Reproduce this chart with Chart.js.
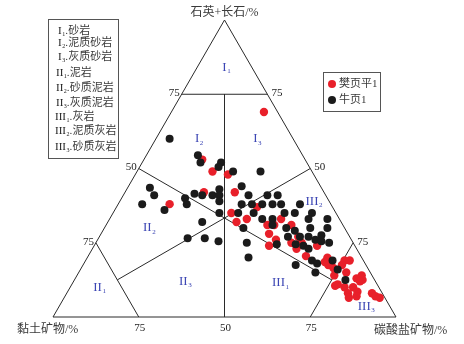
<!DOCTYPE html>
<html><head><meta charset="utf-8">
<script src="https://cdn.jsdelivr.net/npm/chart.js@4/dist/chart.umd.min.js"></script>
<style>html,body{margin:0;padding:0;background:#fff}canvas{display:block}</style>
</head><body>
<canvas id="c" width="464" height="344"></canvas>
<script>
// ---- data (ternary percentages; clay = 100 - quartz - carbonate) ----
const seriesNames = ['樊页平1', '牛页1'];
const fanQuartz    = [69,53,49,48,38,42,42,35,32,33,37,33,31,31,31,28,26,24,25,23,27,25,24,20.5,20,18.5,17.5,16.5,19,19,17.5,15,14,11,10.5,13,14,12.5,12,10,10,8,8.5,7,6.5,8,7,6.5];
const fanCarbonate = [27,17,22,27,15,23,32,34.5,37.5,40,41,50,47,49,54,49,52,51,57,59.5,58,60,65,63.5,70,70,71.5,73.5,75.5,77,75.5,78,75,77.5,77,82,83,84,83.5,80,82.5,82,84.5,85,83,89,90.5,92];
const niuQuartz    = [60,54.5,52,52,50.5,49,49,43.5,41,38,36,40,38,41.5,41,41,43,41,39,35,44,41,38,38,35,30,35,41,41,38,38,38,38,35,35,35,33,33,33,33,31,30,29,30,30,27,27.5,26,25.5,25,27,27,24.5,24.5,24,23,25,20,19,18,17.5,15,19,16,12.5,32,26.5,26.5,25.5];
const niuCarbonate = [4,15,17,23,23,28,36,6.5,9,7,14.5,18.5,20,20.5,23,26,27,28,29,31,33,36.5,36,39,36.5,40.5,41,42,45,42,45,47.5,53,50,53,58,44.5,47.5,58,63.5,48.5,53,56,60,65,61,64.5,63.5,65.5,68,58.5,55,53,58.5,61,63,44,47,66,68,62,69,72,75,79,27.5,26,31,35.5];
const cornerTitles = ['石英+长石/%', '黏土矿物/%', '碳酸盐矿物/%'];
const edgeTickLabels = ['75', '50', '75'];
const rockClass = ['I','I','I','II','II','II','III','III','III'];
const rockSub   = ['1','2','3','1','2','3','1','2','3'];
const rockNames = ['砂岩','泥质砂岩','灰质砂岩','泥岩','砂质泥岩','灰质泥岩','灰岩','泥质灰岩','砂质灰岩'];

// ---- layout (ternary positions of region labels, boundaries) ----
const regionLabelPos = [[84,8],[60,12],[60,29],[10,8],[30,12.5],[12,32],[11.5,60],[39,56],[3.5,89]];
const C3 = 100/3;
const boundaries = [
  [[100,0],[0,0],[0,100],[100,0]],
  [[75,0],[75,25]],
  [[75,12.5],[0,50]],
  [[50,0],[C3,C3]],
  [[50,50],[C3,C3]],
  [[C3,C3],[12.5,12.5]],
  [[C3,C3],[12.5,75]],
  [[25,0],[0,25]],
  [[25,75],[0,75]]
];
const H = Math.sqrt(3)/2;
const toXY = (q, c) => ({x: c + q/2, y: q*H});

const LATIN = '"Liberation Serif"';
const MIX = '"Liberation Serif", "Noto Sans CJK SC"';
const TEXT = '#3a3a3a';

const datasets = [];
datasets.push({label: seriesNames[1], data: niuQuartz.map((q,i)=>toXY(q, niuCarbonate[i])),
  backgroundColor:'#1b1b1b', borderWidth:0, pointRadius:4, order:1, clip:false});
datasets.push({label: seriesNames[0], data: fanQuartz.map((q,i)=>toXY(q, fanCarbonate[i])),
  backgroundColor:'#e8202a', borderWidth:0, pointRadius:4.2, order:2, clip:false});
boundaries.forEach(seg => datasets.push({label:'_b', data: seg.map(p=>toXY(p[0],p[1])),
  showLine:true, borderColor:'#2a2a2a', borderWidth:1, pointRadius:0, fill:false, order:10, clip:false}));

function drawRoman(ctx, main, sub, x, y, size, color, align) {
  ctx.fillStyle = color;
  ctx.font = size + 'px ' + LATIN;
  const w = ctx.measureText(main).width;
  const x0 = align === 'left' ? x : x - w/2;
  ctx.textAlign = 'left'; ctx.textBaseline = 'middle';
  ctx.fillText(main, x0, y);
  ctx.font = Math.round(size*0.55) + 'px ' + LATIN;
  ctx.fillText(sub, x0 + w + 0.5, y + size*0.3);
  return x0 + w + 0.5 + ctx.measureText(sub).width;
}

const decor = {
  id: 'decor',
  afterDraw(chart) {
    const ctx = chart.ctx, sx = chart.scales.x, sy = chart.scales.y;
    const P = (q,c) => { const v = toXY(q,c); return {x: sx.getPixelForValue(v.x), y: sy.getPixelForValue(v.y)}; };
    ctx.save();
    // edge ticks
    ctx.fillStyle = '#222'; ctx.font = '11px ' + LATIN; ctx.textBaseline = 'middle';
    [0.25, 0.5, 0.75].forEach((f, i) => {
      let p = P(100*(1-f), 0); ctx.textAlign = 'right'; ctx.fillText(edgeTickLabels[i], p.x - 2, p.y - 1);
      p = P(100*(1-f), 100*f); ctx.textAlign = 'left'; ctx.fillText(edgeTickLabels[i], p.x + 4, p.y - 1);
      p = P(0, 100*f); ctx.textAlign = 'center'; ctx.fillText(edgeTickLabels[i], p.x + 1, p.y + 11);
    });
    // corner titles
    ctx.font = '12px ' + MIX; ctx.fillStyle = TEXT;
    let p = P(100,0); ctx.textAlign = 'center'; ctx.fillText(cornerTitles[0], p.x, p.y - 7);
    p = P(0,0); ctx.textAlign = 'left'; ctx.fillText(cornerTitles[1], p.x - 36, p.y + 13);
    p = P(0,100); ctx.textAlign = 'left'; ctx.fillText(cornerTitles[2], p.x - 22, p.y + 14);
    // region labels
    regionLabelPos.forEach((rp, i) => {
      const q = P(rp[0], rp[1]);
      drawRoman(ctx, rockClass[i], rockSub[i], q.x, q.y, 13, '#3c46b4', 'center');
    });
    // classification key box
    ctx.strokeStyle = '#555'; ctx.lineWidth = 1;
    ctx.strokeRect(48.5, 19.5, 70, 139);
    const rowY = [31,43,57,73,88,103,117,131,147];
    rowY.forEach((y, i) => {
      const x0 = [58,58,58,56,56,56,55,55,55][i];
      let xe = drawRoman(ctx, rockClass[i], rockSub[i], x0, y, 11, '#222', 'left');
      ctx.font = '11px ' + MIX; ctx.fillStyle = TEXT; ctx.textAlign = 'left';
      ctx.fillText('.', xe, y);
      ctx.fillText(rockNames[i], xe + 3, y);
    });
    // series legend box
    ctx.strokeStyle = '#555';
    ctx.strokeRect(323.5, 72.5, 57, 39);
    [1, 0].forEach((di, k) => {
      const ds = chart.data.datasets[di];
      const y = 84 + k*16;
      ctx.fillStyle = ds.backgroundColor;
      ctx.beginPath(); ctx.arc(332, y, 4, 0, Math.PI*2); ctx.fill();
      ctx.fillStyle = TEXT; ctx.font = '11px ' + MIX; ctx.textAlign = 'left';
      ctx.fillText(ds.label, 339, y);
    });
    ctx.restore();
  }
};

new Chart(document.getElementById('c'), {
  type: 'scatter',
  data: { datasets },
  options: {
    responsive: false, animation: false,
    layout: { padding: { left: 53, right: 68, top: 20, bottom: 27 } },
    scales: {
      x: { type: 'linear', min: 0, max: 100, display: false },
      y: { type: 'linear', min: 0, max: 100*H, display: false }
    },
    plugins: { legend: { display: false }, tooltip: { enabled: false } }
  },
  plugins: [decor]
});
</script>
</body></html>
